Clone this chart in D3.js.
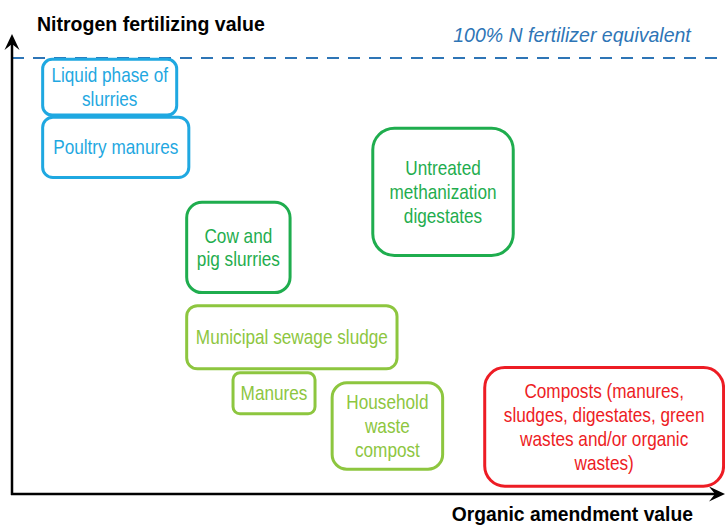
<!DOCTYPE html>
<html>
<head>
<meta charset="utf-8">
<script src="https://cdn.jsdelivr.net/npm/d3@7"></script>
<style>
body{margin:0;background:#fff;}
text{font-family:"Liberation Sans",Arial,sans-serif;}
</style>
</head>
<body>
<script>
//categories and their ranges on the two value axes (0-100)
var labels = [["Liquid phase of","slurries"],["Poultry manures"],["Untreated","methanization","digestates"],
  ["Cow and","pig slurries"],["Municipal sewage sludge"],["Manures"],["Household","waste","compost"],
  ["Composts (manures,","sludges, digestates, green","wastes and/or organic","wastes)"]];
var groups = ["liquid","liquid","raw","raw","treated","treated","treated","compost"];
var amendMin = [4.3, 4.3, 50.6, 24.5, 24.5, 31.0, 44.9, 66.3];
var amendMax = [23.1, 24.8, 70.3, 39.0, 54.0, 42.5, 60.4, 99.8];
var nMin = [86.9, 72.6, 54.7, 46.2, 28.7, 18.4, 5.7, 1.8];
var nMax = [99.7, 86.4, 83.9, 66.9, 43.2, 27.8, 25.5, 29.0];
var refLevel = 100;

var width = 725,
  height = 526;

var svg = d3.select("body")
  .append("svg")
  .attr("width", width)
  .attr("height", height);

var x = d3.scaleLinear().domain([0, 100]).range([12, 725]);
var y = d3.scaleLinear().domain([0, 100]).range([494, 58]);

var color = d3.scaleOrdinal()
  .domain(["liquid","raw","treated","compost"])
  .range(["#1FA8E1","#1FAD4E","#8DC63F","#ED1C24"]);

//dashed reference line
svg.append("line")
  .attr("x1", x(0)).attr("x2", width)
  .attr("y1", y(refLevel)).attr("y2", y(refLevel))
  .attr("stroke", "#2E75B6")
  .attr("stroke-width", 2)
  .attr("stroke-dasharray", "12,9");

svg.append("text")
  .attr("transform", "translate(572,42) scale(0.93,1)")
  .attr("text-anchor", "middle")
  .attr("font-style", "italic")
  .attr("font-size", 21)
  .attr("fill", "#2E75B6")
  .text("100% N fertilizer equivalent");

//axes with arrows
svg.append("line")
  .attr("x1", x(0)).attr("x2", x(0))
  .attr("y1", y(0) + 1).attr("y2", 44)
  .attr("stroke", "#000").attr("stroke-width", 2.5);
svg.append("path")
  .attr("d", "M" + x(0) + ",34L" + (x(0) + 7.5) + ",50L" + x(0) + ",44L" + (x(0) - 7.5) + ",50Z")
  .attr("fill", "#000");

svg.append("line")
  .attr("x1", x(0) - 1).attr("x2", 715)
  .attr("y1", y(0)).attr("y2", y(0))
  .attr("stroke", "#000").attr("stroke-width", 2.5);
svg.append("path")
  .attr("d", "M725," + y(0) + "L709," + (y(0) - 7.5) + "L715," + y(0) + "L709," + (y(0) + 7.5) + "Z")
  .attr("fill", "#000");

svg.append("text")
  .attr("transform", "translate(37,31) scale(0.93,1)")
  .attr("font-weight", "bold")
  .attr("font-size", 21)
  .text("Nitrogen fertilizing value");

svg.append("text")
  .attr("transform", "translate(693,521) scale(0.92,1)")
  .attr("text-anchor", "end")
  .attr("font-weight", "bold")
  .attr("font-size", 21)
  .text("Organic amendment value");

//boxes
var fs = 20, lh = 23.8;
var boxes = svg.selectAll(".box")
  .data(labels)
  .enter()
  .append("g")
  .attr("class", "box");

boxes.append("rect")
  .attr("x", function(d, i){ return x(amendMin[i]); })
  .attr("y", function(d, i){ return y(nMax[i]); })
  .attr("width", function(d, i){ return x(amendMax[i]) - x(amendMin[i]); })
  .attr("height", function(d, i){ return y(nMin[i]) - y(nMax[i]); })
  .attr("rx", function(d, i){
    return 0.17 * Math.min(x(amendMax[i]) - x(amendMin[i]), y(nMin[i]) - y(nMax[i]));
  })
  .attr("fill", "#fff")
  .attr("stroke", function(d, i){ return color(groups[i]); })
  .attr("stroke-width", 3);

boxes.append("text")
  .attr("transform", function(d, i){
    var cx = (x(amendMin[i]) + x(amendMax[i])) / 2,
      cy = (y(nMin[i]) + y(nMax[i])) / 2;
    return "translate(" + cx + "," + cy + ") scale(0.86,1)";
  })
  .attr("text-anchor", "middle")
  .attr("font-size", fs)
  .attr("fill", function(d, i){ return color(groups[i]); })
  .selectAll("tspan")
  .data(function(d){ return d.map(function(s, j){ return {s: s, j: j, n: d.length}; }); })
  .enter()
  .append("tspan")
  .attr("x", 0)
  .attr("y", function(t){ return (t.j - (t.n - 1) / 2) * lh + 0.35 * fs; })
  .text(function(t){ return t.s; });
</script>
</body>
</html>
